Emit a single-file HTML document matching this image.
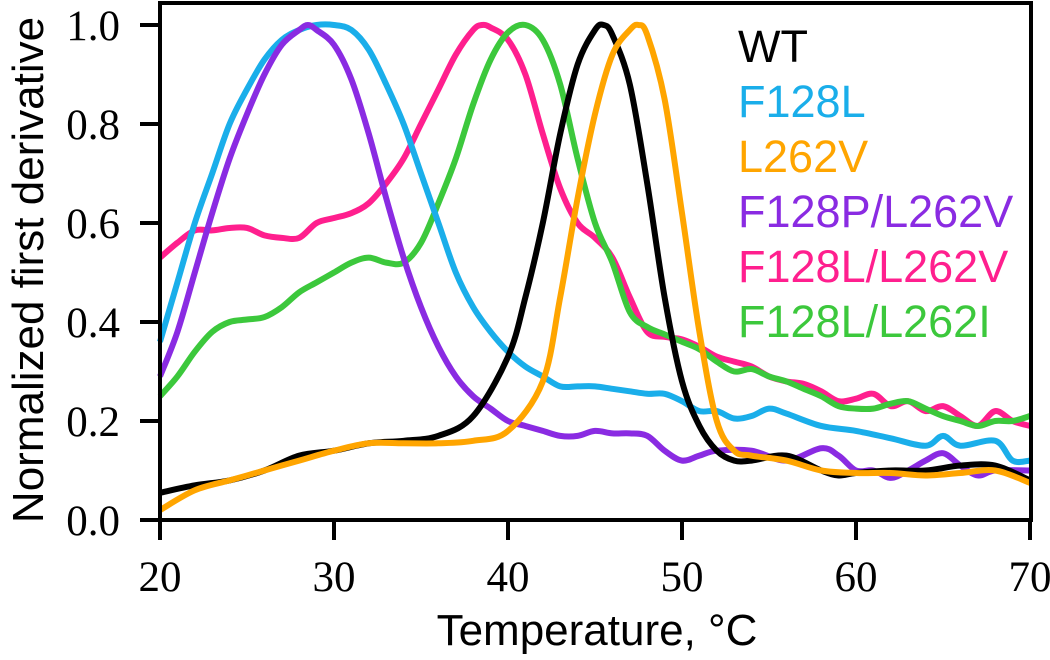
<!DOCTYPE html>
<html><head><meta charset="utf-8"><style>
html,body{margin:0;padding:0;background:#fff}
svg{display:block}
.tk{font-family:"Liberation Serif",serif;font-size:43px;fill:#000}
.lg{font-family:"Liberation Sans",sans-serif;font-size:45px}
.ax{font-family:"Liberation Sans",sans-serif;font-size:44px;fill:#000}
</style></head><body>
<svg id="chart" width="1050" height="660" viewBox="0 0 1050 660" xmlns="http://www.w3.org/2000/svg">
<g id="series"></g>
<rect x="160" y="3" width="871" height="517" fill="none" stroke="#000" stroke-width="4"/>
<g id="axes"></g>
<text class="ax" x="597" y="645" text-anchor="middle">Temperature, °C</text>
<text class="ax" transform="translate(43,270) rotate(-90)" text-anchor="middle">Normalized first derivative</text>
<g id="legend"></g>
</svg>
<script>
const xTicks=[20,30,40,50,60,70];
const yTicks=[0,0.2,0.4,0.6,0.8,1.0];
const yTickLabels=["0.0","0.2","0.4","0.6","0.8","1.0"];
const seriesNames=["WT","F128L","L262V","F128P/L262V","F128L/L262V","F128L/L262I"];
const seriesColors=["#000000","#1aaeea","#ffa500","#8a2be2","#ff1f8e","#3cc83c"];
const wtX=[20,22,24,26,28,30,32,34,36,38,40,41,42,43,44,45,45.5,46,47,48,49,50,51,52,53,54,56,58,59,60,62,64,66,68,70];
const wtY=[0.055,0.07,0.08,0.10,0.13,0.14,0.155,0.16,0.17,0.21,0.33,0.45,0.6,0.78,0.92,0.99,1.0,0.98,0.88,0.68,0.45,0.28,0.19,0.14,0.12,0.12,0.13,0.10,0.09,0.095,0.10,0.10,0.11,0.11,0.08];
const f128lX=[20,21,22,23,24,25,26,27,28,29,30,31,32,33,34,35,36,37,38,39,40,41,42,43,44,45,46,47,48,49,50,51,52,53,54,55,56,58,60,62,64,65,66,68,69,70];
const f128lY=[0.36,0.48,0.6,0.7,0.8,0.87,0.93,0.97,0.99,1.0,1.0,0.99,0.95,0.88,0.8,0.7,0.6,0.5,0.43,0.38,0.34,0.31,0.29,0.27,0.27,0.27,0.265,0.26,0.255,0.255,0.24,0.22,0.22,0.205,0.21,0.225,0.215,0.19,0.18,0.165,0.15,0.17,0.15,0.16,0.12,0.12];
const l262vX=[20,22,24,26,28,30,32,34,36,38,40,42,43,44,45,46,47,47.5,48,49,50,51,52,53,54,56,58,60,62,64,66,68,70];
const l262vY=[0.02,0.06,0.08,0.10,0.12,0.14,0.155,0.155,0.155,0.16,0.18,0.28,0.45,0.65,0.82,0.94,0.99,1.0,0.98,0.85,0.62,0.38,0.2,0.14,0.13,0.12,0.1,0.095,0.095,0.09,0.095,0.1,0.075];
const f128pX=[20,21,22,23,24,25,26,27,28,28.5,29,30,31,32,33,34,35,36,37,38,39,40,41,42,43,44,45,46,47,48,49,50,51,52,54,56,58,59,60,61,62,63,64,65,66,67,68,70];
const f128pY=[0.29,0.38,0.5,0.62,0.73,0.82,0.9,0.96,0.99,1.0,0.99,0.96,0.89,0.78,0.65,0.53,0.43,0.35,0.29,0.25,0.225,0.2,0.19,0.18,0.17,0.17,0.18,0.175,0.175,0.17,0.14,0.12,0.13,0.14,0.14,0.12,0.145,0.13,0.1,0.1,0.085,0.1,0.12,0.135,0.11,0.09,0.1,0.1];
const dblVX=[20,21,22,23,24,25,26,27,28,29,30,31,32,33,34,35,36,37,38,38.5,39,40,41,42,43,44,45,46,47,48,49,50,51,52,53,54,55,56,57,58,59,60,61,62,63,64,65,66,67,68,69,70];
const dblVY=[0.53,0.56,0.585,0.585,0.59,0.59,0.575,0.57,0.57,0.6,0.61,0.62,0.64,0.68,0.73,0.8,0.87,0.94,0.99,1.0,0.995,0.97,0.9,0.78,0.67,0.6,0.57,0.53,0.45,0.38,0.37,0.365,0.35,0.33,0.32,0.31,0.29,0.28,0.275,0.26,0.24,0.245,0.255,0.23,0.24,0.22,0.23,0.21,0.19,0.22,0.2,0.19];
const dblIX=[20,21,22,23,24,25,26,27,28,29,30,31,32,33,34,35,36,37,38,39,40,41,42,43,44,45,46,47,48,49,50,51,52,53,54,55,56,57,58,59,60,61,62,63,64,65,66,67,68,69,70];
const dblIY=[0.25,0.29,0.34,0.38,0.4,0.405,0.41,0.43,0.46,0.48,0.5,0.52,0.53,0.52,0.52,0.56,0.64,0.73,0.84,0.93,0.985,1.0,0.97,0.88,0.73,0.6,0.52,0.42,0.39,0.375,0.36,0.345,0.32,0.3,0.305,0.29,0.28,0.265,0.25,0.23,0.225,0.225,0.235,0.24,0.225,0.21,0.2,0.19,0.2,0.2,0.21];

const NS="http://www.w3.org/2000/svg";
const xs=v=>160+(v-20)*(870/50);
const ys=v=>520-v*495;
function pathFor(X,Y){
  const p=X.map((x,i)=>[xs(x),ys(Y[i])]);
  let d="M"+p[0][0]+","+p[0][1];
  for(let i=0;i<p.length-1;i++){
    const p0=p[i-1]||p[i],p1=p[i],p2=p[i+1],p3=p[i+2]||p2;
    const c1x=p1[0]+(p2[0]-p0[0])/6,c1y=p1[1]+(p2[1]-p0[1])/6;
    const c2x=p2[0]-(p3[0]-p1[0])/6,c2y=p2[1]-(p3[1]-p1[1])/6;
    d+=` C${c1x},${c1y} ${c2x},${c2y} ${p2[0]},${p2[1]}`;
  }
  return d;
}
const sg=document.getElementById('series');
const order=[[4,dblVX,dblVY,'series-f128l-l262v'],[5,dblIX,dblIY,'series-f128l-l262i'],[1,f128lX,f128lY,'series-f128l'],[3,f128pX,f128pY,'series-f128p-l262v'],[0,wtX,wtY,'series-wt'],[2,l262vX,l262vY,'series-l262v']];
order.forEach(o=>{
  const el=document.createElementNS(NS,'path');
  el.setAttribute('d',pathFor(o[1],o[2]));
  el.setAttribute('fill','none');
  el.setAttribute('stroke',seriesColors[o[0]]);
  el.setAttribute('stroke-width','6');
  el.setAttribute('stroke-linejoin','round');
  
  
  sg.appendChild(el);
});
const ag=document.getElementById('axes');
xTicks.forEach(t=>{
  const l=document.createElementNS(NS,'line');
  l.setAttribute('x1',xs(t));l.setAttribute('x2',xs(t));l.setAttribute('y1',520);l.setAttribute('y2',540);
  l.setAttribute('stroke','#000');l.setAttribute('stroke-width','4');
  
  
  ag.appendChild(l);
  const tx=document.createElementNS(NS,'text');
  tx.setAttribute('x',xs(t));tx.setAttribute('y',591);tx.setAttribute('text-anchor','middle');tx.setAttribute('class','tk');
  tx.textContent=t;
  
  
  ag.appendChild(tx);
});
yTicks.forEach((t,i)=>{
  const l=document.createElementNS(NS,'line');
  l.setAttribute('x1',140);l.setAttribute('x2',160);l.setAttribute('y1',ys(t));l.setAttribute('y2',ys(t));
  l.setAttribute('stroke','#000');l.setAttribute('stroke-width','4');
  
  
  ag.appendChild(l);
  const tx=document.createElementNS(NS,'text');
  tx.setAttribute('x',120);tx.setAttribute('y',ys(t)+15);tx.setAttribute('text-anchor','end');tx.setAttribute('class','tk');
  tx.textContent=yTickLabels[i];
  
  
  ag.appendChild(tx);
});
const lg=document.getElementById('legend');
seriesNames.forEach((n,i)=>{
  const tx=document.createElementNS(NS,'text');
  tx.setAttribute('x',738);tx.setAttribute('y',62+i*55);tx.setAttribute('class','lg');
  tx.setAttribute('fill',seriesColors[i]);
  tx.textContent=n;
  
  
  lg.appendChild(tx);
});
</script>
</body></html>
